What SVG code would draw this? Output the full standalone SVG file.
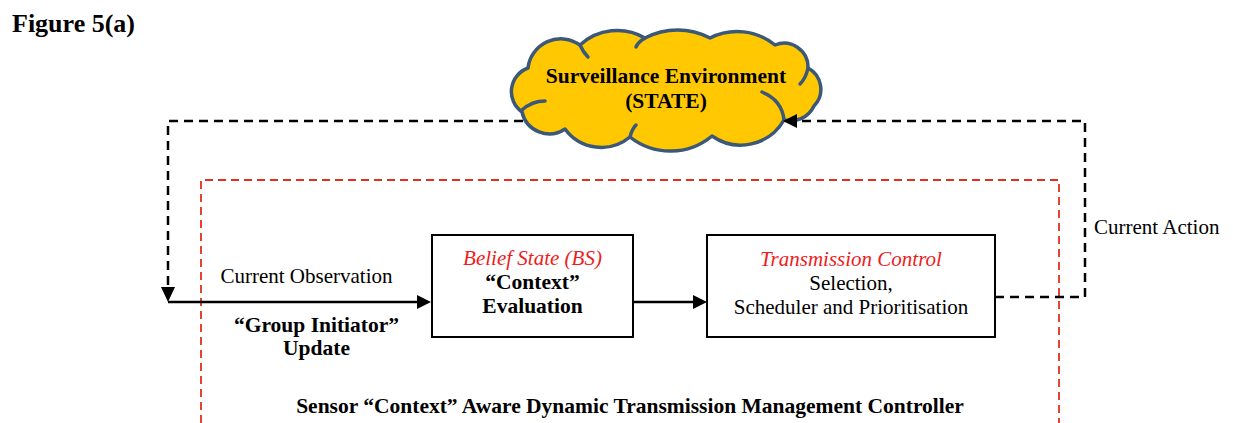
<svg xmlns="http://www.w3.org/2000/svg" width="1233" height="423" viewBox="0 0 1233 423">
  <style>
    text { font-family: "Liberation Serif", "Times New Roman", serif; font-size: 21px; fill: #000; }
    .b { font-weight: bold; font-size: 21.5px; }
    .it { font-style: italic; fill: #EE1C1C; }
    .mid { text-anchor: middle; }
    .box { fill: #fff; stroke: #000; stroke-width: 2; }
    .solid { fill: none; stroke: #000; stroke-width: 2.5; }
    .dash { fill: none; stroke: #000; stroke-width: 2.5; stroke-dasharray: 9 6; }
    .red { fill: none; stroke: #E0301E; stroke-width: 1.8; stroke-dasharray: 8 5; }
    .head { fill: #000; }
    .cloud { fill: #FFC800; stroke: #3B5878; stroke-width: 3.5; stroke-linejoin: round; }
    .inner { fill: none; stroke: #3B5878; stroke-width: 3.5; stroke-linecap: round; }
  </style>

  <!-- heading -->
  <text class="b" x="12" y="32" style="font-size:26px">Figure 5(a)</text>

  <!-- controller boundary -->
  <path class="red" d="M201,423 V180 H1059 V423"/>

  <!-- environment cloud -->
  <g id="environment">
    <path class="cloud" d="M522,112
      A25,25 0 0 1 528,68
      A33,33 0 0 1 580,45
      A55,55 0 0 1 645,38
      A70,70 0 0 1 710,38
      A60,60 0 0 1 775,45
      A24,24 0 0 1 808,68
      A24,24 0 0 1 814,106
      A26,26 0 0 1 784,120
      A50,50 0 0 1 712,136
      A65,65 0 0 1 630,137
      A45,45 0 0 1 565,129
      A28,28 0 0 1 522,112 Z"/>
    <path class="inner" d="M522,110 Q532,101 545,101"/>
    <path class="inner" d="M580,45 Q583,52 588,57"/>
    <path class="inner" d="M645,38 Q638,42 636,47"/>
    <path class="inner" d="M808,68 Q806,78 800,84"/>
    <path class="inner" d="M784,120 Q782,100 762,92"/>
    <path class="inner" d="M630,137 Q632,129 636,125"/>
    <text class="b mid" x="666" y="83">Surveillance Environment</text>
    <text class="b mid" x="666" y="108">(STATE)</text>
  </g>

  <!-- connectors -->
  <g id="connectors">
    <!-- observation loop: environment to controller input -->
    <path class="dash" d="M523,121 H168 V287"/>
    <polygon class="head" points="161,287 175,287 168,302"/>
    <path class="solid" d="M168,302 H418"/>
    <polygon class="head" points="417,295 417,309 431,302"/>
    <!-- belief state to transmission control -->
    <path class="solid" d="M633,302 H694"/>
    <polygon class="head" points="693,295 693,309 707,302"/>
    <!-- action loop: controller output back to environment -->
    <path class="dash" d="M995,297 H1085 V121 H797"/>
    <polygon class="head" points="797,114 797,128 783,121"/>
  </g>

  <!-- belief state evaluation -->
  <g id="belief-state">
    <rect class="box" x="432" y="235" width="201" height="102"/>
    <text class="it mid" x="532.5" y="265">Belief State (BS)</text>
    <text class="b mid" x="532.5" y="289">“Context”</text>
    <text class="b mid" x="532.5" y="313">Evaluation</text>
  </g>

  <!-- transmission control -->
  <g id="transmission-control">
    <rect class="box" x="707" y="235" width="288" height="102"/>
    <text class="it mid" x="851" y="266">Transmission Control</text>
    <text class="mid" x="851" y="290">Selection,</text>
    <text class="mid" x="851" y="314">Scheduler and Prioritisation</text>
  </g>

  <!-- connector labels -->
  <g id="labels">
    <text class="mid" x="306.5" y="283">Current Observation</text>
    <text class="b mid" x="316.5" y="332">“Group Initiator”</text>
    <text class="b mid" x="316.5" y="355">Update</text>
    <text x="1094" y="234">Current Action</text>
    <text class="b mid" x="630" y="413">Sensor “Context” Aware Dynamic Transmission Management Controller</text>
  </g>
</svg>
